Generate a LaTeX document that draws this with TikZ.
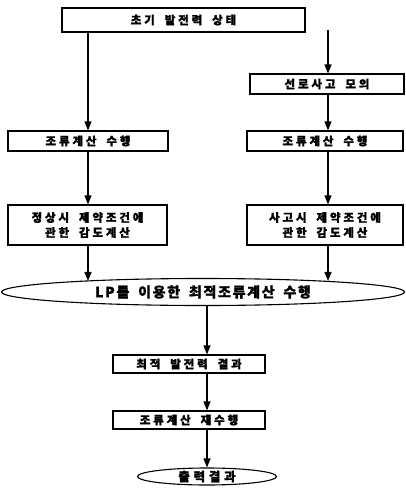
\documentclass[tikz,border=0pt]{standalone}
\usepackage{fontspec}
\newfontfamily\kr{Noto Sans CJK KR}[LetterSpace=25,WordSpace=1.8,BoldFeatures={FakeBold=1.2}]
\newfontfamily\krw{Noto Sans CJK KR}[LetterSpace=12,WordSpace=1.8,BoldFeatures={FakeBold=1.3}]
\newfontfamily\krf{Noto Sans CJK KR}[LetterSpace=30,BoldFeatures={FakeBold=1.2}]
\usetikzlibrary{arrows.meta,shapes.geometric}
\begin{document}
\begin{tikzpicture}[x=1pt,y=-1pt,
  box/.style={draw,line width=1.1pt,inner sep=0pt,align=center,font=\kr\bfseries\fontsize{11.5}{15}\selectfont},
  oval/.style={draw,ellipse,line width=1.1pt,inner sep=0pt,align=center},
  arr/.style={line width=1.3pt,-{Triangle[length=9pt,width=7pt]}}]
\useasboundingbox (0,0) rectangle (405,489);
\node[box,minimum width=243pt,minimum height=24pt] (top) at (183.5,20) {초기 발전력 상태};
\node[box,minimum width=154pt,minimum height=20pt] (fault) at (327,84) {선로사고 모의};
\node[box,minimum width=160pt,minimum height=20pt] (calcL) at (88,141) {조류계산 수행};
\node[box,minimum width=156pt,minimum height=20pt] (calcR) at (325,141) {조류계산 수행};
\node[box,minimum width=159pt,minimum height=40pt] (sensL) at (87.5,225) {정상시 제약조건에\\관한 감도계산};
\node[box,minimum width=156pt,minimum height=40pt] (sensR) at (325,225) {사고시 제약조건에\\관한 감도계산};
\node[oval,minimum width=403pt,minimum height=27pt,font=\krw\bfseries\fontsize{14}{16}\selectfont] (lp) at (203,292) {LP를 이용한 최적조류계산 수행};
\node[box,minimum width=152pt,minimum height=18pt] (res) at (189,364) {최적 발전력 결과};
\node[box,minimum width=152pt,minimum height=18pt] (recalc) at (189,420) {조류계산 재수행};
\node[oval,minimum width=139pt,minimum height=17pt,font=\krf\bfseries\fontsize{12.5}{13}\selectfont] (fin) at (207,476.5) {출력결과};
\coordinate (xl) at (88,0);
\coordinate (xr) at (328,0);
\draw[arr] (top.south -| xl) -- (calcL.north -| xl);
\draw[arr] ([yshift=3pt]top.south -| xr) -- (fault.north -| xr);
\draw[arr] (fault.south -| xr) -- (calcR.north -| xr);
\draw[arr] (calcL.south -| xl) -- (sensL.north -| xl);
\draw[arr] (calcR.south -| xr) -- (sensR.north -| xr);
\draw[arr] (sensL.south -| xl) -- ([yshift=-3pt]lp.north -| xl);
\draw[arr] (sensR.south -| xr) -- ([yshift=-3pt]lp.north -| xr);
\draw[arr] (lp.south -| fin) -- (res.north -| fin);
\draw[arr] (res.south -| fin) -- (recalc.north -| fin);
\draw[arr] (recalc.south -| fin) -- (fin.north);
\end{tikzpicture}
\end{document}
